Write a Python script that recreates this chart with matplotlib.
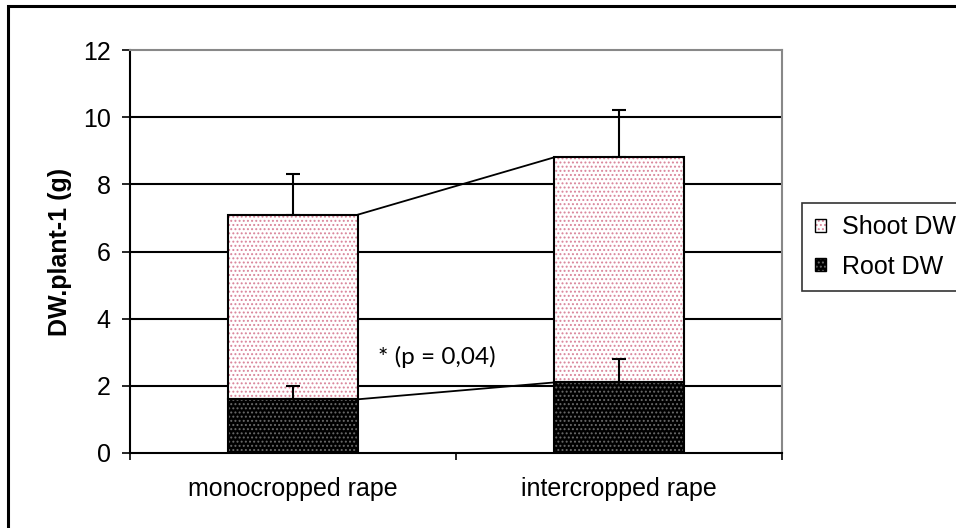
import matplotlib
matplotlib.use("Agg")
import matplotlib.pyplot as plt
from matplotlib.patches import Patch, Rectangle
import numpy as np

plt.rcParams['font.family'] = ['Liberation Sans', 'DejaVu Sans']
plt.rcParams['hatch.linewidth'] = 0.9

# data
categories = ['monocropped rape', 'intercropped rape']
root_dw = [1.6, 2.1]
shoot_dw = [5.5, 6.7]
root_err = [0.4, 0.7]
total_err = [1.2, 1.4]
yticks = [0, 2, 4, 6, 8, 10, 12]

x = np.arange(len(categories))
w = 0.4
total = np.array(root_dw) + np.array(shoot_dw)

fig = plt.figure(figsize=(9.56, 5.28), dpi=100)
ax = fig.add_axes([130 / 956, 75 / 528, 652 / 956, 403 / 528])

# gridlines
for t in yticks[1:-1]:
    ax.axhline(t, color='black', lw=1.5, zorder=0)

# error bars (upwards only)
ax.errorbar(x, total, yerr=[np.zeros(2), total_err], fmt='none', ecolor='black',
            elinewidth=1.5, capsize=4.7, capthick=1.5, zorder=1)
ax.errorbar(x, root_dw, yerr=[np.zeros(2), root_err], fmt='none', ecolor='black',
            elinewidth=1.5, capsize=4.7, capthick=1.5, zorder=4)

# shoot bars: white with pink dots
ax.bar(x, shoot_dw, w, bottom=root_dw, facecolor='white', edgecolor='#d9849a',
       hatch='....', lw=0, zorder=2)
ax.bar(x, shoot_dw, w, bottom=root_dw, fill=False, edgecolor='black', lw=1.5, zorder=3)
# root bars: black with grey dots
ax.bar(x, root_dw, w, facecolor='black', edgecolor='#6a6a6a', hatch='....', lw=0, zorder=2)
ax.bar(x, root_dw, w, fill=False, edgecolor='black', lw=1.5, zorder=3)

# connecting lines between bars
ax.plot([x[0] + w / 2, x[1] - w / 2], [total[0], total[1]], color='black', lw=1.3, zorder=3)
ax.plot([x[0] + w / 2, x[1] - w / 2], [root_dw[0], root_dw[1]], color='black', lw=1.3, zorder=3)

ax.text(0.261, 2.65, '* (p = 0,04)', fontsize=17.5, family=['Lato', 'DejaVu Sans'],
        va='baseline', ha='left', zorder=5)

ax.set_xlim(-0.5, 1.5)
ax.set_ylim(0, 12)
ax.set_yticks(yticks)
ax.set_xticks(x)
ax.set_xticklabels(categories)
ax.set_xticks([-0.5, 0.5, 1.5], minor=True)
ax.tick_params(axis='x', which='major', length=0, pad=17, labelsize=18)
ax.tick_params(axis='x', which='minor', length=5, width=1.2)
ax.tick_params(axis='y', length=6, width=1.2, pad=8, labelsize=18)

for s in ['left', 'bottom']:
    ax.spines[s].set_color('black')
    ax.spines[s].set_linewidth(1.5)
for s in ['top', 'right']:
    ax.spines[s].set_color('#888888')
    ax.spines[s].set_linewidth(1.5)

ax.set_ylabel('DW.plant-1 (g)', fontsize=18, fontweight='bold')
ax.yaxis.set_label_coords(-0.089, 0.5)

handles = [(Patch(facecolor='white', edgecolor='#d9849a', hatch='....', lw=0),
            Patch(fill=False, edgecolor='black', lw=1)),
           (Patch(facecolor='black', edgecolor='#6a6a6a', hatch='....', lw=0),
            Patch(fill=False, edgecolor='black', lw=1))]
leg = fig.legend(handles, ['Shoot DW', 'Root DW'], loc='upper left',
                 bbox_to_anchor=(802 / 956, 1 - 203 / 528), fontsize=18,
                 frameon=True, fancybox=False, edgecolor='black',
                 handlelength=0.45, handleheight=0.45, handletextpad=0.65,
                 labelspacing=0.6, borderpad=0.5, borderaxespad=0)
leg.get_frame().set_linewidth(1.2)

# outer chart border (cut off at right and bottom)
fig.patches.append(Rectangle((8 / 956, -0.2), 1.2, 1.2 - 5.5 / 528, transform=fig.transFigure,
                             fill=False, edgecolor='black', lw=2.2, zorder=10))

fig.savefig('out.png', dpi=100)
